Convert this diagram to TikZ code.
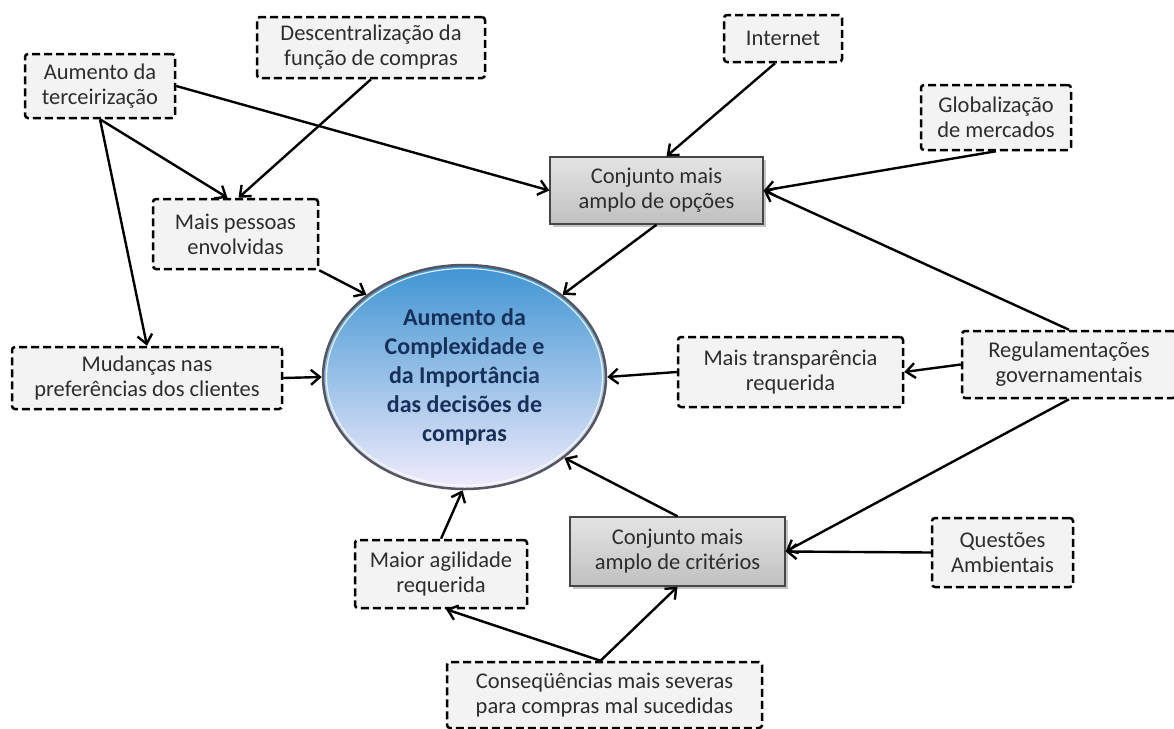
\documentclass[tikz,border=0pt]{standalone}
\usepackage{fontspec}
\setmainfont{Carlito}
\usetikzlibrary{arrows.meta,shapes.geometric,shadows}

\definecolor{boxtext}{RGB}{45,45,45}
\definecolor{dashfill}{RGB}{243,243,243}
\definecolor{ellipsetext}{RGB}{22,48,90}
\definecolor{ellrim}{RGB}{85,85,95}
\definecolor{ellA}{RGB}{62,148,210}
\definecolor{ellB}{RGB}{145,203,238}
\definecolor{ellC}{RGB}{242,236,252}
\definecolor{grayA}{RGB}{228,228,228}
\definecolor{grayB}{RGB}{192,192,192}

\tikzset{
  boxfont/.style={font=\fontsize{22.5}{25}\selectfont, text=boxtext, align=center},
  dashbox/.style={boxfont, rectangle, rounded corners=3pt, draw=black,
    line width=2.5pt, dash pattern=on 8pt off 4pt, fill=dashfill, inner sep=0pt},
  graybox/.style={boxfont, rectangle, draw={rgb,255:red,70;green,70;blue,70},
    line width=1.4pt, top color=grayA, bottom color=grayB, inner sep=0pt,
    drop shadow={shadow xshift=2.5pt, shadow yshift=-2.5pt, opacity=0.45}},
  hub/.style={ellipse, draw=ellrim, line width=2.5pt, inner sep=0pt,
    top color=ellA, middle color=ellB, bottom color=ellC,
    font=\bfseries\fontsize{24}{29}\selectfont, text=ellipsetext, align=center},
  hubring/.style={ellipse, draw=white, opacity=0.8, line width=1.2pt, inner sep=0pt},
  link/.style={-{Straight Barb[length=9pt,width=15pt]}, line width=2.4pt, black},
  sz/.style 2 args={minimum width=#1pt, minimum height=#2pt}
}

\begin{document}
\begin{tikzpicture}[x=1pt,y=-1pt]
  \fill[white] (0,0) rectangle (1174,728);
  \useasboundingbox (0,0) rectangle (1174,728);

  % outer boxes
  \node[dashbox, sz={150}{64}] (terc) at (100,86) {Aumento da\\terceirização};
  \node[dashbox, sz={228}{61}] (desc) at (371,47.5) {Descentralização da\\função de compras};
  \node[dashbox, sz={118}{47}] (inet) at (783,38.5) {Internet};
  \node[dashbox, sz={150}{65}] (glob) at (996,117.5) {Globalização\\de mercados};
  \node[dashbox, sz={165}{70}] (pess) at (235.5,234) {Mais pessoas\\envolvidas};
  \node[dashbox, sz={270}{62}] (mud) at (147,378) {Mudanças nas\\preferências dos clientes};
  \node[dashbox, sz={225}{70}] (transp) at (790.5,372) {Mais transparência\\requerida};
  \node[dashbox, sz={214}{67}] (regul) at (1069,364.5) {Regulamentações\\governamentais};
  \node[dashbox, sz={172}{68}] (agil) at (441,574) {Maior agilidade\\requerida};
  \node[dashbox, sz={141}{69}] (amb) at (1002.5,552.5) {Questões\\Ambientais};
  \node[dashbox, sz={315}{66}] (conseq) at (604.5,695) {Conseqüências mais severas\\para compras mal sucedidas};

  % shaded intermediate boxes
  \node[graybox, sz={213}{67}] (opc) at (656.5,190.5) {Conjunto mais\\amplo de opções};
  \node[graybox, sz={215}{69}] (crit) at (677.5,551.5) {Conjunto mais\\amplo de critérios};

  % central ellipse with a light inner rim
  \node[hub, sz={283}{224}] (hub) at (464.5,377)
    {Aumento da\\Complexidade e\\da Importância\\das decisões de\\compras};
  \node[hubring, sz={276}{217}] (hubrim) at (hub.center) {};

  % connectors
  \draw[link] (terc.east) -- (opc.west);
  \draw[link] (terc.south) -- ([xshift=-8pt]pess.north);
  \draw[link] (terc.south) -- (mud.north);
  \draw[link] (desc.south) -- ([xshift=3pt]pess.north);
  \draw[link] ([xshift=-8pt]inet.south) -- ([xshift=10pt]opc.north);
  \draw[link] (glob.south) -- (opc.east);
  \draw[link] (regul.north) -- (opc.east);
  \draw[link] (regul.west) -- (transp.east);
  \draw[link] (regul.south) -- (crit.east);
  \draw[link] (amb.west) -- (crit.east);
  \draw[link] (opc.south) -- (hub.40);
  \draw[link] (pess.south east) -- (hub.140);
  \draw[link] (mud.east) -- (hub.180);
  \draw[link] (transp.west) -- (hub.0);
  \draw[link] (crit.north) -- (hub.-39);
  \draw[link] (agil.north) -- (hub.-91);
  \draw[link] ([xshift=-4pt]conseq.north) -- ([xshift=5pt]agil.south);
  \draw[link] ([xshift=-4pt]conseq.north) -- (crit.south);
\end{tikzpicture}
\end{document}
